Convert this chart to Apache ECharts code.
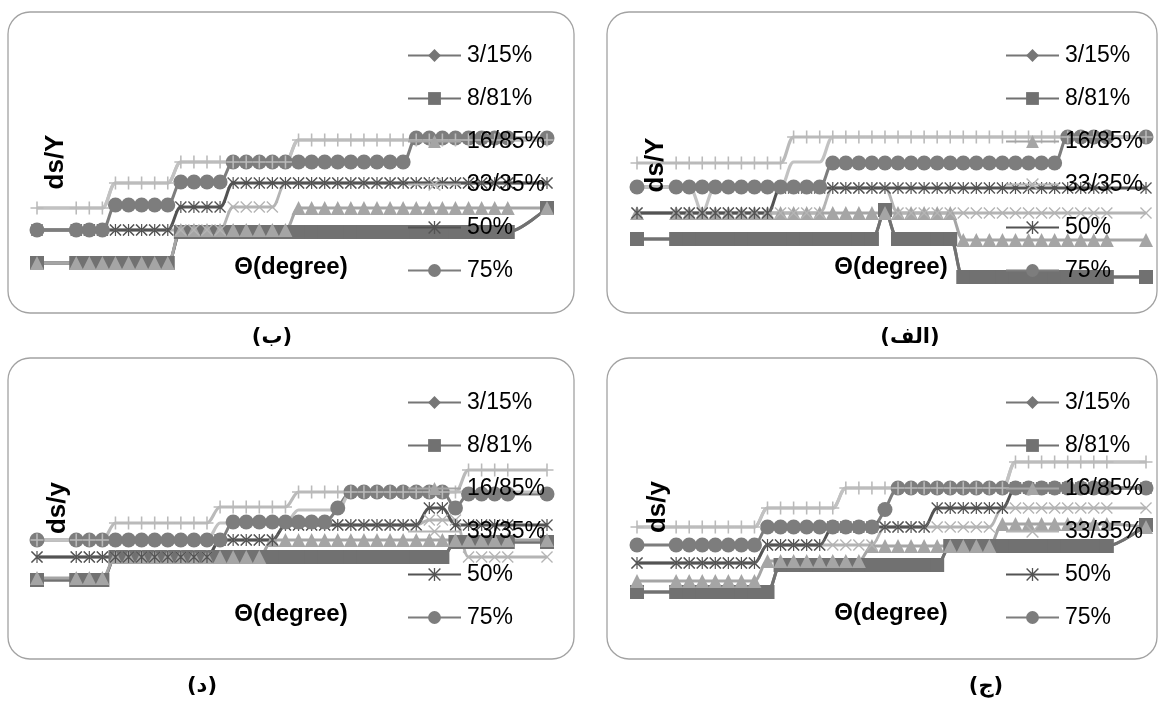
<!DOCTYPE html>
<html>
<head>
<meta charset="utf-8">
<script src="https://cdn.jsdelivr.net/npm/echarts@6/dist/echarts.min.js"></script>
<style>
  html, body { margin: 0; padding: 0; background: #fff; }
  #chart { width: 1162px; height: 702px; }
</style>
</head>
<body>
<div id="chart"></div>
<script>
// θ sample positions shared by all four panels
const theta = [0, 3, 4, 5, 6, 7, 8, 9, 10, 11, 12, 13, 14, 15, 16, 17, 18, 19, 20, 21, 22, 23, 24, 25, 26, 27, 28, 29, 30, 31, 32, 33, 34, 35, 36, 39];

// legend names (the last two series carry no legend entry)
const legendNames = ['3/15%', '8/81%', '16/85%', '33/35%', '50%', '75%'];
const seriesNames = ['3/15%', '8/81%', '16/85%', '33/35%', '50%', '75%', '90%', '100%'];

// ---- panel (ب) ----
const be_315  = [1.08, 1.08,1.08,1.08,1.08,1.08,1.08,1.08,1.08, 2.32,2.32,2.32,2.32,2.32,2.32,2.32,2.32,2.32,2.32, 2.32,2.32,2.32,2.32,2.32,2.32,2.32,2.32,2.32,2.32, 2.32,2.32,2.32,2.32,2.32,2.32, 3.28];
const be_881  = [1.08, 1.08,1.08,1.08,1.08,1.08,1.08,1.08,1.08, 2.32,2.32,2.32,2.32,2.32,2.32,2.32,2.32,2.32,2.32, 2.32,2.32,2.32,2.32,2.32,2.32,2.32,2.32,2.32,2.32, 2.32,2.32,2.32,2.32,2.32,2.32, 3.28];
const be_1685 = [1.08, 1.08,1.08,1.08,1.08,1.08,1.08,1.08,1.08, 2.4,2.4,2.4,2.4,2.4,2.4,2.4,2.4,2.4, 3.28,3.28,3.28,3.28,3.28,3.28,3.28,3.28,3.28,3.28,3.28,3.28,3.28,3.28,3.28,3.28,3.28, 3.28];
const be_3335 = [2.4, 2.4,2.4,2.4,2.4,2.4,2.4,2.4,2.4,2.4,2.4,2.4,2.4, 3.32,3.32,3.32,3.32, 4.28,4.28,4.28,4.28,4.28,4.28,4.28,4.28,4.28,4.28,4.28,4.28,4.28,4.28,4.28,4.28,4.28,4.28, 4.28];
const be_50   = [2.4, 2.4,2.4,2.4,2.4,2.4,2.4,2.4,2.4, 3.32,3.32,3.32,3.32, 4.28,4.28,4.28,4.28,4.28,4.28,4.28,4.28,4.28,4.28,4.28,4.28,4.28,4.28,4.28,4.28,4.28,4.28,4.28,4.28,4.28,4.28, 4.28];
const be_75   = [2.4, 2.4,2.4,2.4, 3.4,3.4,3.4,3.4,3.4, 4.32,4.32,4.32,4.32, 5.12,5.12,5.12,5.12,5.12,5.12,5.12,5.12,5.12,5.12,5.12,5.12,5.12,5.12, 6.08,6.08,6.08,6.08,6.08,6.08,6.08,6.08, 6.08];
const be_90   = [3.28, 3.28,3.28,3.28, 4.28,4.28,4.28,4.28,4.28, 5.12,5.12,5.12,5.12,5.12,5.12,5.12,5.12,5.12, 6.0,6.0,6.0,6.0,6.0,6.0,6.0,6.0,6.0,6.0,6.0,6.0,6.0,6.0,6.0,6.0,6.0, 6.0];
const be_100  = [3.28, 3.28,3.28,3.28, 4.28,4.28,4.28,4.28,4.28, 5.12,5.12,5.12,5.12,5.12,5.12,5.12,5.12,5.12, 6.0,6.0,6.0,6.0,6.0,6.0,6.0,6.0,6.0,6.0,6.0,6.0,6.0,6.0,6.0,6.0,6.0, 6.0];

// ---- panel (الف) ----
const alef_315  = [2.04, 2.04,2.04,2.04,2.04,2.04,2.04,2.04,2.04,2.04,2.04,2.04,2.04,2.04,2.04,2.04,2.04, 3.2, 2.04,2.04,2.04,2.04,2.04, 0.52,0.52,0.52,0.52,0.52,0.52,0.52,0.52,0.52,0.52,0.52,0.52, 0.52];
const alef_881  = [2.04, 2.04,2.04,2.04,2.04,2.04,2.04,2.04,2.04,2.04,2.04,2.04,2.04,2.04,2.04,2.04,2.04, 3.2, 2.04,2.04,2.04,2.04,2.04, 0.52,0.52,0.52,0.52,0.52,0.52,0.52,0.52,0.52,0.52,0.52,0.52, 0.52];
const alef_1685 = [3.08, 3.08,3.08,3.08,3.08,3.08,3.08,3.08,3.08,3.08,3.08,3.08,3.08,3.08,3.08,3.08,3.08,3.08,3.08,3.08,3.08,3.08,3.08, 2.0,2.0,2.0,2.0,2.0,2.0,2.0,2.0,2.0,2.0,2.0,2.0, 2.0];
const alef_3335 = [3.08, 3.08,3.08,3.08,3.08,3.08,3.08,3.08,3.08,3.08,3.08,3.08,3.08, 4.08,4.08,4.08,4.08,4.08, 3.08,3.08,3.08,3.08,3.08,3.08,3.08,3.08,3.08,3.08,3.08,3.08,3.08,3.08,3.08,3.08,3.08, 3.08];
const alef_50   = [3.08, 3.08,3.08,3.08,3.08,3.08,3.08,3.08,3.08, 4.08,4.08,4.08,4.08,4.08,4.08,4.08,4.08,4.08,4.08, 4.08,4.08,4.08,4.08,4.08,4.08,4.08,4.08,4.08,4.08, 4.08,4.08,4.08,4.08,4.08,4.08, 4.08];
const alef_75   = [4.12, 4.12,4.12,4.12,4.12,4.12,4.12,4.12,4.12,4.12,4.12,4.12,4.12, 5.08,5.08,5.08,5.08,5.08,5.08,5.08,5.08,5.08,5.08,5.08,5.08,5.08,5.08,5.08,5.08,5.08,5.08, 6.12,6.12,6.12,6.12, 6.12];
const alef_90   = [5.08, 5.08,5.08,5.08,5.08,5.08,5.08,5.08,5.08,5.08, 6.12,6.12,6.12,6.12,6.12,6.12,6.12,6.12,6.12,6.12, 6.12,6.12,6.12,6.12,6.12,6.12,6.12,6.12,6.12,6.12, 6.12,6.12,6.12,6.12,6.12, 6.12];
const alef_100  = [4.12, 4.12,4.12, 3.08, 4.12,4.12,4.12,4.12,4.12,4.12, 5.12,5.12,5.12, 6.12,6.12,6.12,6.12,6.12,6.12,6.12,6.12,6.12,6.12,6.12,6.12,6.12,6.12,6.12,6.12,6.12,6.12,6.12,6.12,6.12,6.12, 6.12];

// ---- panel (د) ----
const dal_315  = [2.28, 2.28,2.28,2.28, 3.2,3.2,3.2,3.2,3.2,3.2,3.2,3.2,3.2,3.2, 3.2,3.2,3.2,3.2,3.2,3.2,3.2,3.2,3.2,3.2, 3.2,3.2,3.2,3.2,3.2,3.2, 3.8,3.8,3.8,3.8,3.8, 3.8];
const dal_881  = [2.28, 2.28,2.28,2.28, 3.2,3.2,3.2,3.2,3.2,3.2,3.2,3.2,3.2,3.2, 3.2,3.2,3.2,3.2,3.2,3.2,3.2,3.2,3.2,3.2, 3.2,3.2,3.2,3.2,3.2,3.2, 3.8,3.8,3.8,3.8,3.8, 3.8];
const dal_1685 = [2.36, 2.36,2.36,2.36, 3.2,3.2,3.2,3.2,3.2,3.2,3.2,3.2,3.2,3.2,3.2,3.2, 3.88,3.88,3.88,3.88,3.88,3.88,3.88,3.88,3.88,3.88,3.88,3.88,3.88,3.88,3.88,3.88,3.88,3.88,3.88, 3.88];
const dal_3335 = [3.2, 3.2,3.2,3.2,3.2,3.2,3.2,3.2,3.2,3.2,3.2,3.2, 3.88,3.88,3.88,3.88,3.88, 4.48,4.48,4.48,4.48,4.48,4.48,4.48,4.48,4.48,4.48,4.48, 4.68,4.68,4.68, 3.2,3.2,3.2,3.2, 3.2];
const dal_50   = [3.2, 3.2,3.2,3.2,3.2,3.2,3.2,3.2,3.2,3.2,3.2,3.2, 3.88,3.88,3.88,3.88,3.88, 4.48,4.48,4.48,4.48,4.48,4.48,4.48,4.48,4.48,4.48,4.48, 5.16,5.16, 4.48,4.48,4.48,4.48,4.48, 4.48];
const dal_75   = [3.88, 3.88,3.88,3.88,3.88,3.88,3.88,3.88,3.88,3.88,3.88,3.88,3.88, 4.6,4.6,4.6,4.6,4.6,4.6,4.6,4.6, 5.16, 5.8,5.8,5.8,5.8,5.8,5.8,5.8,5.8, 5.16, 5.72,5.72,5.72,5.72, 5.72];
const dal_90   = [3.88, 3.88,3.88,3.88, 4.56,4.56,4.56,4.56,4.56,4.56,4.56,4.56, 5.2,5.2,5.2,5.2,5.2,5.2, 5.8,5.8,5.8,5.8,5.8,5.8,5.8,5.8,5.8,5.8,5.8,5.8,5.8, 6.68,6.68,6.68,6.68, 6.68];
const dal_100  = [3.88, 3.88,3.88,3.88,3.88,3.88,3.88,3.88,3.88,3.88,3.88,3.88, 4.56,4.56,4.56,4.56,4.56,4.56, 5.08,5.08,5.08,5.08, 5.8,5.8,5.8,5.8,5.8,5.8,5.8,5.8,5.8,5.8,5.8,5.8,5.8, 5.8];

// ---- panel (ج) ----
const jim_315  = [1.8, 1.8,1.8,1.8,1.8,1.8,1.8,1.8,1.8, 2.88,2.88,2.88,2.88,2.88,2.88,2.88,2.88,2.88,2.88,2.88,2.88,2.88, 3.64,3.64,3.64,3.64,3.64,3.64,3.64,3.64,3.64,3.64,3.64,3.64,3.64, 4.48];
const jim_881  = [1.8, 1.8,1.8,1.8,1.8,1.8,1.8,1.8,1.8, 2.88,2.88,2.88,2.88,2.88,2.88,2.88,2.88,2.88,2.88,2.88,2.88,2.88, 3.64,3.64,3.64,3.64,3.64,3.64,3.64,3.64,3.64,3.64,3.64,3.64,3.64, 4.48];
const jim_1685 = [2.24, 2.24,2.24,2.24,2.24,2.24,2.24,2.24, 3.04,3.04,3.04,3.04,3.04,3.04,3.04,3.04, 3.64,3.64,3.64,3.64,3.64,3.64,3.64,3.64,3.64,3.64, 4.52,4.52,4.52,4.52,4.52,4.52,4.52,4.52,4.52, 4.4];
const jim_3335 = [2.96, 2.96,2.96,2.96,2.96,2.96,2.96,2.96, 3.68,3.68,3.68,3.68,3.68,3.68,3.68,3.68,3.68, 4.4,4.4,4.4,4.4,4.4,4.4,4.4,4.4,4.4, 5.16,5.16,5.16,5.16,5.16,5.16,5.16,5.16,5.16, 5.16];
const jim_50   = [2.96, 2.96,2.96,2.96,2.96,2.96,2.96,2.96, 3.68,3.68,3.68,3.68,3.68, 4.4,4.4,4.4,4.4,4.4,4.4,4.4,4.4, 5.16,5.16,5.16,5.16,5.16,5.16, 5.96,5.96,5.96,5.96,5.96,5.96,5.96,5.96, 5.96];
const jim_75   = [3.68, 3.68,3.68,3.68,3.68,3.68,3.68,3.68, 4.4,4.4,4.4,4.4,4.4,4.4,4.4,4.4,4.4, 5.1, 5.96,5.96,5.96,5.96,5.96,5.96,5.96,5.96,5.96,5.96,5.96,5.96,5.96,5.96,5.96,5.96,5.96, 5.96];
const jim_90   = [4.4, 4.4,4.4,4.4,4.4,4.4,4.4,4.4, 5.16,5.16,5.16,5.16,5.16,5.16, 5.96,5.96,5.96,5.96,5.96,5.96,5.96,5.96,5.96,5.96,5.96,5.96,5.96, 7.0,7.0,7.0,7.0,7.0,7.0,7.0,7.0, 7.0];
const jim_100  = [4.4, 4.4,4.4,4.4,4.4,4.4,4.4,4.4, 5.16,5.16,5.16,5.16,5.16,5.16, 5.96,5.96,5.96,5.96,5.96,5.96,5.96,5.96,5.96,5.96,5.96,5.96,5.96, 7.0,7.0,7.0,7.0,7.0,7.0,7.0,7.0, 7.0];

// marker shapes drawn as filled outlines
const X_PATH = 'path://M0 0.8L0.8 0L10 9.2L9.2 10Z M9.2 0L10 0.8L0.8 10L0 9.2Z';
const STAR_PATH = 'path://M0 0.8L0.8 0L10 9.2L9.2 10Z M9.2 0L10 0.8L0.8 10L0 9.2Z M4.5 0L5.5 0L5.5 10L4.5 10Z';
const PLUS_PATH = 'path://M4.4 0L5.6 0L5.6 10L4.4 10Z M0 4.4L10 4.4L10 5.6L0 5.6Z';

const styles = [
  { color: '#767676', symbol: 'diamond',  size: 10, width: 3 },
  { color: '#717171', symbol: 'rect',     size: 14, width: 3 },
  { color: '#a5a5a5', symbol: 'triangle', size: 14, width: 3 },
  { color: '#b4b4b4', symbol: X_PATH,     size: 12, width: 2.8 },
  { color: '#535353', symbol: STAR_PATH,  size: 12, width: 3 },
  { color: '#7d7d7d', symbol: 'circle',   size: 15, width: 3 },
  { color: '#bababa', symbol: PLUS_PATH,  size: 13, width: 3.2 },
  { color: '#c2c2c2', symbol: 'none',     size: 0,  width: 3.2 }
];

// layout of each panel: frame, plot area, legend, titles
const panels = [
  { sets: [be_315, be_881, be_1685, be_3335, be_50, be_75, be_90, be_100],
    box: [8, 12, 566, 301], plot: [37, 40, 510, 250], legend: [407, 44],
    yTitle: 'ds/Y', yTitlePos: [56, 162], xTitlePos: [291, 267], caption: '(ب)', capPos: [272, 338] },
  { sets: [alef_315, alef_881, alef_1685, alef_3335, alef_50, alef_75, alef_90, alef_100],
    box: [607, 12, 550, 301], plot: [637, 40, 509, 250], legend: [1005, 44],
    yTitle: 'ds/Y', yTitlePos: [656, 165], xTitlePos: [891, 267], caption: '(الف)', capPos: [910, 338] },
  { sets: [dal_315, dal_881, dal_1685, dal_3335, dal_50, dal_75, dal_90, dal_100],
    box: [8, 358, 566, 301], plot: [37, 387, 510, 250], legend: [407, 391],
    yTitle: 'ds/y', yTitlePos: [58, 508], xTitlePos: [291, 614], caption: '(د)', capPos: [202, 687] },
  { sets: [jim_315, jim_881, jim_1685, jim_3335, jim_50, jim_75, jim_90, jim_100],
    box: [607, 358, 550, 301], plot: [637, 387, 509, 250], legend: [1005, 391],
    yTitle: 'ds/y', yTitlePos: [658, 507], xTitlePos: [891, 613], caption: '(ج)', capPos: [986, 687] }
];

const grids = [], xAxes = [], yAxes = [], series = [], legends = [], graphics = [];

panels.forEach((p, k) => {
  grids.push({ left: p.plot[0], top: p.plot[1], width: p.plot[2], height: p.plot[3] });
  xAxes.push({ type: 'value', gridIndex: k, min: 0, max: 39, show: false });
  yAxes.push({ type: 'value', gridIndex: k, min: 0, max: 10, show: false });

  p.sets.forEach((vals, s) => {
    const st = styles[s];
    series.push({
      type: 'line',
      name: seriesNames[s],
      xAxisIndex: k,
      yAxisIndex: k,
      data: theta.map((t, i) => [t, vals[i]]),
      smooth: 0.3,
      symbol: st.symbol,
      symbolSize: st.size,
      showSymbol: st.symbol !== 'none',
      showAllSymbol: true,
      clip: false,
      lineStyle: { color: st.color, width: st.width },
      itemStyle: { color: st.color },
      emphasis: { disabled: true },
      silent: true,
      animation: false,
      z: 2
    });
  });

  legends.push({
    data: legendNames,
    orient: 'vertical',
    left: p.legend[0],
    top: p.legend[1],
    padding: 0,
    itemWidth: 53,
    itemHeight: 16,
    itemGap: 20,
    selectedMode: false,
    textStyle: { fontSize: 23, lineHeight: 23, color: '#000', fontFamily: '"Liberation Sans", Arial, sans-serif', padding: [0, 0, 0, 1] }
  });

  graphics.push({
    type: 'rect', z: -1,
    shape: { x: p.box[0], y: p.box[1], width: p.box[2], height: p.box[3], r: 22 },
    style: { fill: '#fff', stroke: '#a2a2a2', lineWidth: 1.3 }
  });
  graphics.push({
    type: 'text', z: 20, x: p.yTitlePos[0], y: p.yTitlePos[1], rotation: Math.PI / 2,
    style: { text: p.yTitle, font: 'bold 26px "Liberation Sans", Arial, sans-serif', fill: '#000',
             textAlign: 'center', textVerticalAlign: 'middle', align: 'center', verticalAlign: 'middle' }
  });
  graphics.push({
    type: 'text', z: 20, x: p.xTitlePos[0], y: p.xTitlePos[1],
    style: { text: 'Θ(degree)', font: 'bold 24px "Liberation Sans", Arial, sans-serif', fill: '#000',
             textAlign: 'center', textVerticalAlign: 'middle', align: 'center', verticalAlign: 'middle' }
  });
  graphics.push({
    type: 'text', z: 20, x: p.capPos[0], y: p.capPos[1],
    style: { text: p.caption, font: 'bold 21px "DejaVu Sans", sans-serif', fill: '#000',
             textAlign: 'center', textVerticalAlign: 'middle', align: 'center', verticalAlign: 'middle' }
  });
});

const chart = echarts.init(document.getElementById('chart'), null, { renderer: 'canvas' });
chart.setOption({
  backgroundColor: '#fff',
  animation: false,
  grid: grids,
  xAxis: xAxes,
  yAxis: yAxes,
  legend: legends,
  graphic: { elements: graphics },
  series: series
});
</script>
</body>
</html>
